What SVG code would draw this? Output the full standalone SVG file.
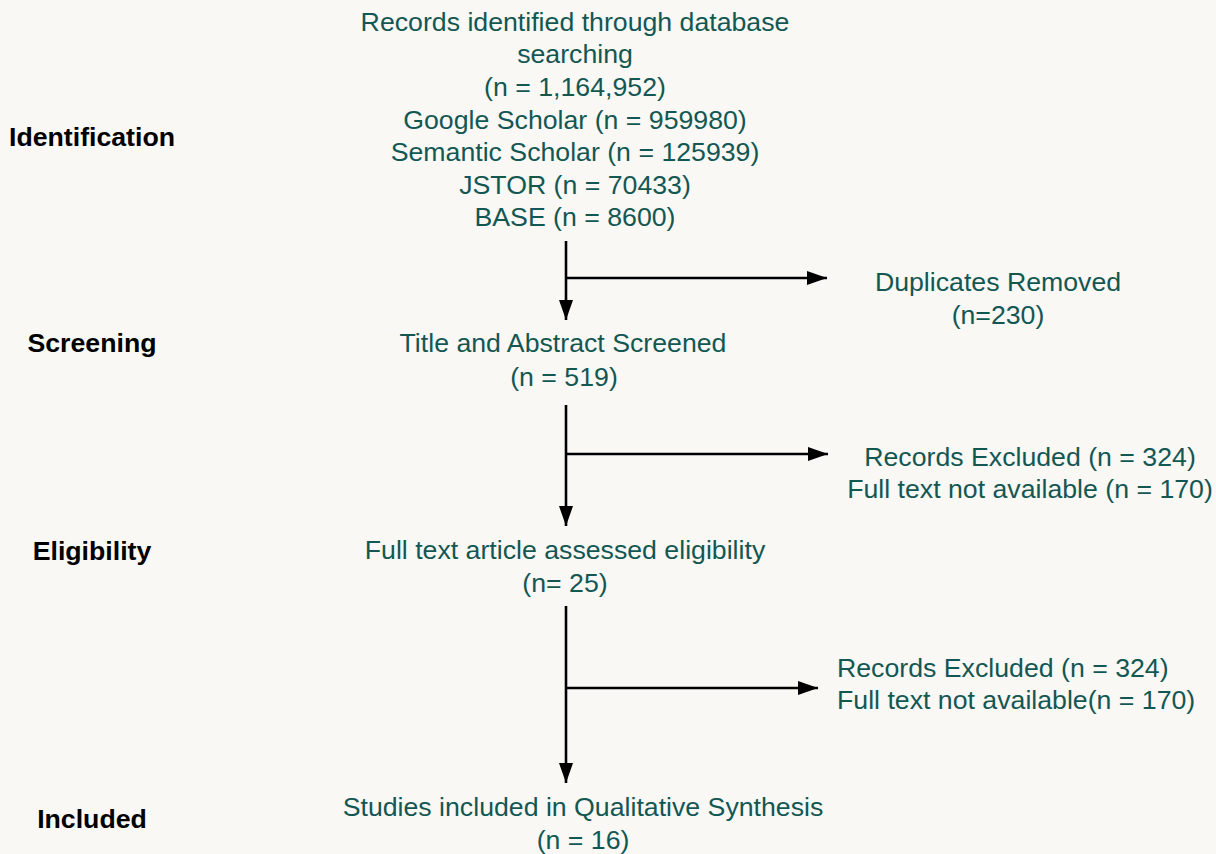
<svg xmlns="http://www.w3.org/2000/svg" width="1216" height="854" viewBox="0 0 1216 854">
<defs>
<marker id="ah" markerWidth="20" markerHeight="14" refX="20" refY="7" orient="auto" markerUnits="userSpaceOnUse" viewBox="0 0 20 14">
<path d="M0,0 L20,7 L0,14 z" fill="#000"/>
</marker>
</defs>
<style>
.t{font-family:"Liberation Sans",Arial,sans-serif;font-size:26.7px;fill:#135753;text-anchor:middle}
.s{text-anchor:start}
.l{font-family:"Liberation Sans",Arial,sans-serif;font-size:26.7px;font-weight:bold;fill:#000;text-anchor:middle}
.c{stroke:#000;stroke-width:2.6;fill:none}
.a{marker-end:url(#ah)}
</style>
<rect width="1216" height="854" fill="#F9F8F5"/>
<g id="stage-labels">
<text class="l" x="92" y="146">Identification</text>
<text class="l" x="92" y="352">Screening</text>
<text class="l" x="92" y="560">Eligibility</text>
<text class="l" x="92" y="828">Included</text>
</g>
<g id="identified">
<text class="t" x="575" y="31">Records identified through database</text>
<text class="t" x="575" y="63">searching</text>
<text class="t" x="575" y="96">(n = 1,164,952)</text>
<text class="t" x="575" y="129">Google Scholar (n = 959980)</text>
<text class="t" x="575" y="161">Semantic Scholar (n = 125939)</text>
<text class="t" x="575" y="194">JSTOR (n = 70433)</text>
<text class="t" x="575" y="226">BASE (n = 8600)</text>
</g>
<g id="duplicates">
<text class="t" x="998" y="291">Duplicates Removed</text>
<text class="t" x="998" y="324">(n=230)</text>
</g>
<g id="screened">
<text class="t" x="563" y="352">Title and Abstract Screened</text>
<text class="t" x="564" y="386">(n = 519)</text>
</g>
<g id="excluded1">
<text class="t" x="1030" y="466">Records Excluded (n = 324)</text>
<text class="t" x="1030" y="498">Full text not available (n = 170)</text>
</g>
<g id="eligibility">
<text class="t" x="565" y="559">Full text article assessed eligibility</text>
<text class="t" x="565" y="592">(n= 25)</text>
</g>
<g id="excluded2">
<text class="t s" x="837" y="677">Records Excluded (n = 324)</text>
<text class="t s" x="837" y="709">Full text not available(n = 170)</text>
</g>
<g id="included">
<text class="t" x="583" y="816">Studies included in Qualitative Synthesis</text>
<text class="t" x="583" y="849">(n = 16)</text>
</g>
<g id="connectors">
<path class="c a" d="M566,241 V320"/>
<path class="c a" d="M566,278 H827"/>
<path class="c a" d="M566,405 V526"/>
<path class="c a" d="M566,454 H828"/>
<path class="c a" d="M566,606 V783"/>
<path class="c a" d="M566,688 H818"/>
</g>
</svg>
